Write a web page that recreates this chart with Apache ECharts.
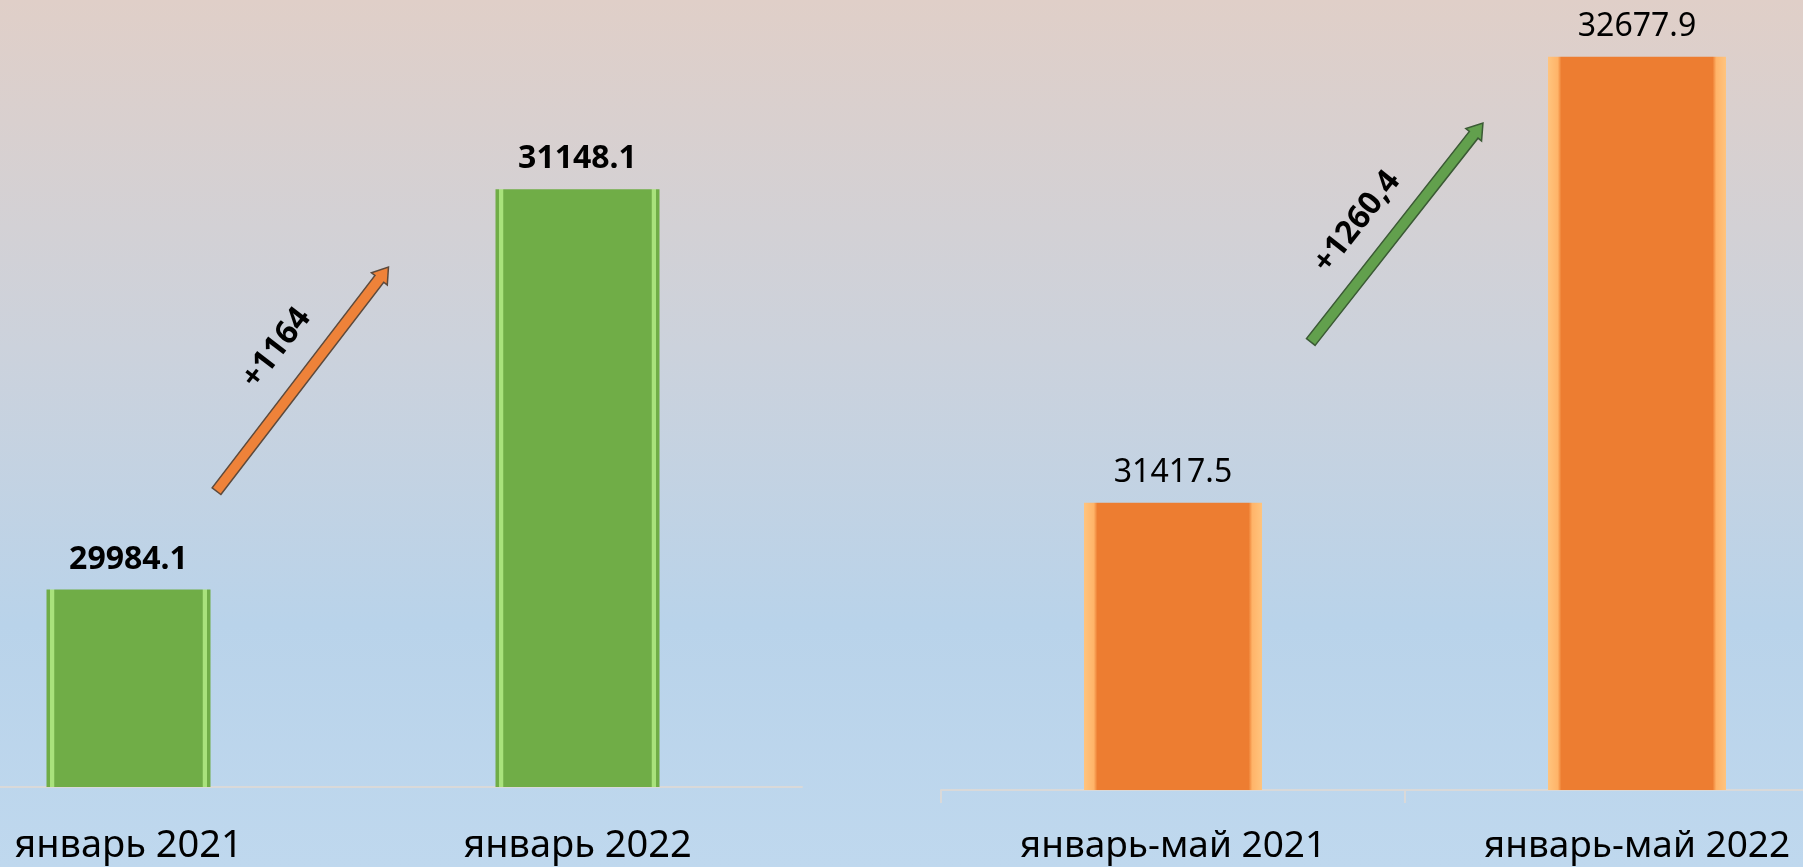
<!DOCTYPE html>
<html>
<head>
<meta charset="utf-8">
<script src="https://cdn.jsdelivr.net/npm/echarts@6/dist/echarts.min.js"></script>
<style>
  html, body { margin: 0; padding: 0; }
  #chart { width: 1803px; height: 867px; }
</style>
</head>
<body>
<div id="chart"></div>
<script>
const leftCategories = ["январь 2021", "январь 2022"];
const leftValues = [29984.1, 31148.1];
const rightCategories = ["январь-май 2021", "январь-май 2022"];
const rightValues = [31417.5, 32677.9];
const leftChange = "+1164";
const rightChange = "+1260,4";

const FONT = "'Noto Sans', 'DejaVu Sans', sans-serif";

const chart = echarts.init(document.getElementById("chart"));

chart.setOption({
  animation: false,
  backgroundColor: new echarts.graphic.LinearGradient(0, 0, 0, 1, [
    { offset: 0, color: "#e0cfc8" },
    { offset: 0.4, color: "#ccd2dc" },
    { offset: 0.72, color: "#b9d3ea" },
    { offset: 1, color: "#bfd8ee" },
  ]),
  grid: [
    { left: -96, width: 898, top: 20, height: 767, outerBoundsMode: "none", containLabel: false },
    { left: 941, width: 928, top: 20, height: 770, outerBoundsMode: "none", containLabel: false },
  ],
  xAxis: [
    {
      gridIndex: 0,
      type: "category",
      data: leftCategories,
      axisLine: { lineStyle: { color: "#d9d9d9", width: 2 } },
      axisTick: { show: false },
      axisLabel: { color: "#000", fontSize: 38, fontFamily: FONT, margin: 40 },
    },
    {
      gridIndex: 1,
      type: "category",
      data: rightCategories,
      axisLine: { lineStyle: { color: "#d9d9d9", width: 2 } },
      axisTick: { show: true, length: 13, lineStyle: { color: "#d9d9d9", width: 2 } },
      axisLabel: { color: "#000", fontSize: 37, fontFamily: FONT, margin: 38 },
    },
  ],
  yAxis: [
    { gridIndex: 0, type: "value", show: false, min: 29410, max: 31640 },
    { gridIndex: 1, type: "value", show: false, min: 30606, max: 32782 },
  ],
  series: [
    {
      type: "bar",
      xAxisIndex: 0,
      yAxisIndex: 0,
      data: leftValues,
      barWidth: 164,
      itemStyle: {
        color: new echarts.graphic.LinearGradient(0, 0, 1, 0, [
          { offset: 0, color: "#70ad47" },
          { offset: 0.02, color: "#70ad47" },
          { offset: 0.024, color: "#a9e27c" },
          { offset: 0.045, color: "#a9e27c" },
          { offset: 0.05, color: "#70ad47" },
          { offset: 0.95, color: "#70ad47" },
          { offset: 0.955, color: "#a9e27c" },
          { offset: 0.976, color: "#a9e27c" },
          { offset: 0.98, color: "#70ad47" },
          { offset: 1, color: "#70ad47" },
        ]),
      },
      label: {
        show: true,
        position: "top",
        distance: 14,
        color: "#000",
        fontSize: 32,
        fontWeight: "bold",
        fontFamily: FONT,
      },
    },
    {
      type: "bar",
      xAxisIndex: 1,
      yAxisIndex: 1,
      data: rightValues,
      barWidth: 178,
      itemStyle: {
        color: new echarts.graphic.LinearGradient(0, 0, 1, 0, [
          { offset: 0, color: "#ffc47e" },
          { offset: 0.055, color: "#ffb469" },
          { offset: 0.075, color: "#ed7d31" },
          { offset: 0.925, color: "#ed7d31" },
          { offset: 0.945, color: "#ffb469" },
          { offset: 1, color: "#ffc47e" },
        ]),
      },
      label: {
        show: true,
        position: "top",
        distance: 14,
        color: "#000",
        fontSize: 32,
        fontFamily: FONT,
      },
    },
  ],
});

// arrows: placed between the category centres, heights in data units
function catX(gridIndex, cats, t) {
  const a = chart.convertToPixel({ xAxisIndex: gridIndex }, cats[0]);
  const b = chart.convertToPixel({ xAxisIndex: gridIndex }, cats[1]);
  return a + t * (b - a);
}
function valY(gridIndex, v) {
  return chart.convertToPixel({ yAxisIndex: gridIndex }, v);
}

function arrow(x0, y0, x1, y1, fill, stroke) {
  const len = Math.hypot(x1 - x0, y1 - y0);
  const ux = (x1 - x0) / len, uy = (y1 - y0) / len;
  const px = -uy, py = ux;
  const hw = 5.5, hh = 10, hl = 15;
  const bx = x1 - ux * hl, by = y1 - uy * hl;
  const pts = [
    [x0 + px * hw, y0 + py * hw],
    [bx + px * hw, by + py * hw],
    [bx + px * hh, by + py * hh],
    [x1, y1],
    [bx - px * hh, by - py * hh],
    [bx - px * hw, by - py * hw],
    [x0 - px * hw, y0 - py * hw],
  ];
  return {
    type: "polygon",
    shape: { points: pts },
    style: { fill: fill, stroke: stroke, lineWidth: 1.5 },
  };
}

function label(x, y, x0, y0, x1, y1, text) {
  const ang = Math.atan2(y0 - y1, x1 - x0);
  return {
    type: "text",
    x: x,
    y: y,
    rotation: ang,
    style: {
      text: text,
      fill: "#000",
      font: "bold 32px " + FONT,
      align: "center",
      verticalAlign: "middle",
    },
  };
}

const la = [catX(0, leftCategories, 0.196), valY(0, 30270), catX(0, leftCategories, 0.579), valY(0, 30922)];
const ra = [catX(1, rightCategories, 0.297), valY(1, 31872), catX(1, rightCategories, 0.668), valY(1, 32491)];

chart.setOption({
  graphic: [
    arrow(la[0], la[1], la[2], la[3], "#ee8239", "#5d4a3c"),
    label(catX(0, leftCategories, 0.33), valY(0, 30686), la[0], la[1], la[2], la[3], leftChange),
    arrow(ra[0], ra[1], ra[2], ra[3], "#62a04d", "#3b5a35"),
    label(catX(1, rightCategories, 0.397), valY(1, 32211), ra[0], ra[1], ra[2], ra[3], rightChange),
  ],
});
</script>
</body>
</html>
